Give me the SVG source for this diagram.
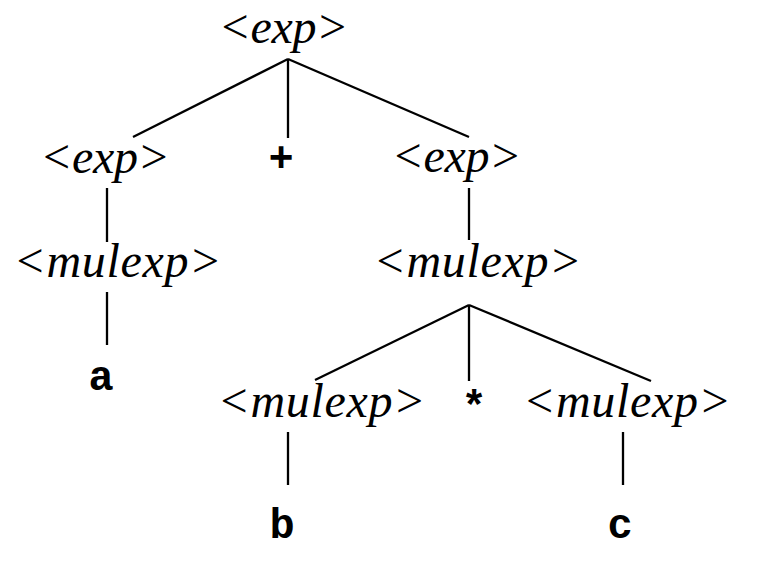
<svg xmlns="http://www.w3.org/2000/svg" width="764" height="568" viewBox="0 0 764 568">
<style>
.nt{font-family:"Liberation Serif","Times New Roman",serif;font-style:italic;font-size:48px;fill:#000;text-anchor:middle}
.t{font-family:"Liberation Mono","Courier New",monospace;font-weight:bold;font-size:42px;fill:#000;text-anchor:middle}
.e{stroke:#000;stroke-width:2.3;fill:none;stroke-linecap:butt}
</style>
<rect width="764" height="568" fill="#fff"/>
<g id="connectors">
<line class="e" x1="288" y1="59" x2="133" y2="137"/>
<line class="e" x1="288" y1="59" x2="288" y2="138"/>
<line class="e" x1="288" y1="59" x2="469" y2="137"/>
<line class="e" x1="107" y1="188" x2="107" y2="242"/>
<line class="e" x1="469" y1="188" x2="469" y2="240"/>
<line class="e" x1="107" y1="292" x2="107" y2="345"/>
<line class="e" x1="469" y1="305" x2="315" y2="380"/>
<line class="e" x1="469" y1="305" x2="469" y2="381"/>
<line class="e" x1="469" y1="305" x2="651" y2="381"/>
<line class="e" x1="288" y1="432" x2="288" y2="485"/>
<line class="e" x1="623" y1="432" x2="623" y2="485"/>
</g>
<g id="n-root"><text class="nt" x="283.5" y="43" textLength="130" lengthAdjust="spacing">&lt;exp&gt;</text></g>
<g id="n-exp-left"><text class="nt" x="105" y="173" textLength="130" lengthAdjust="spacing">&lt;exp&gt;</text></g>
<g id="n-plus"><text class="t" x="281" y="171">+</text></g>
<g id="n-exp-right"><text class="nt" x="456.5" y="172" textLength="130" lengthAdjust="spacing">&lt;exp&gt;</text></g>
<g id="n-mulexp-left"><text class="nt" x="117.5" y="277" textLength="208" lengthAdjust="spacing">&lt;mulexp&gt;</text></g>
<g id="n-a"><text class="t" x="101" y="390">a</text></g>
<g id="n-mulexp-mid"><text class="nt" x="477.5" y="277" textLength="208" lengthAdjust="spacing">&lt;mulexp&gt;</text></g>
<g id="n-mulexp-bl"><text class="nt" x="321.5" y="417" textLength="208" lengthAdjust="spacing">&lt;mulexp&gt;</text></g>
<g id="n-star"><text class="t" x="474" y="420">*</text></g>
<g id="n-mulexp-br"><text class="nt" x="627" y="417" textLength="208" lengthAdjust="spacing">&lt;mulexp&gt;</text></g>
<g id="n-b"><text class="t" x="282" y="538">b</text></g>
<g id="n-c"><text class="t" x="620" y="538">c</text></g>
</svg>
